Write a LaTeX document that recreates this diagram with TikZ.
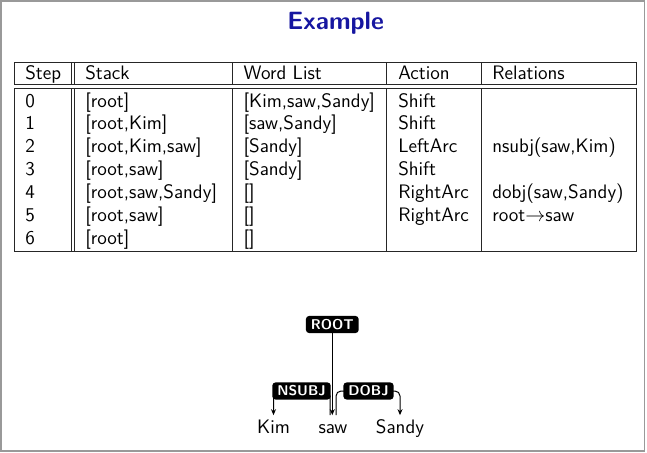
\documentclass[tikz,border=0pt]{standalone}
\usepackage{tikz}
\usepackage{amsmath}
\usetikzlibrary{arrows.meta,backgrounds}
\definecolor{titleblue}{RGB}{22,22,160}
\newcommand{\colrule}[1]{\draw[rule] (#1,62) -- (#1,84.5) (#1,88.7) -- (#1,251.7);}

\begin{document}
\begin{tikzpicture}[x=0.6pt,y=-0.6pt,
	cell/.style={anchor=base west,inner sep=0pt,font=\sffamily\fontsize{11.7}{14}\selectfont},
	word/.style={anchor=base,inner xsep=0pt,inner ysep=2.5pt,text height=8pt,text depth=0pt,font=\sffamily\fontsize{11.7}{14}\selectfont},
	deplabel/.style={fill=black,text=white,rounded corners=2pt,inner xsep=3pt,inner ysep=1.9pt,text height=6pt,text depth=0.5pt,font=\sffamily\bfseries\fontsize{8.5}{10}\selectfont},
	arc/.style={line width=0.6pt,rounded corners=3pt},
	rule/.style={line width=0.6pt,black!85}]
	\useasboundingbox (0,0) rectangle (647,452);
	\draw[gray!80,line width=1pt] (0.85,0.85) rectangle (644.5,451.1);
	\node[cell,font=\sffamily\bfseries\fontsize{15}{18}\selectfont,text=titleblue] (title) at (287,29.5) {Example};
	% table
	\draw[rule] (14,62) rectangle (636.7,84.5);
	\draw[rule] (14,88.7) rectangle (636.7,251.7);
	\foreach \x in {71.7,74,232.3,386.7,481} {\colrule{\x}}
	\node[cell] (hstep) at (25,79) {Step};
	\node[cell] (hstack) at (85,79) {Stack};
	\node[cell] (hwords) at (243.3,79) {Word List};
	\node[cell] (haction) at (398,79) {Action};
	\node[cell] (hrel) at (492,79) {Relations};
	\foreach \i/\stk/\wl/\act/\rl in {0/{[root]}/{[Kim,saw,Sandy]}/Shift/{},
			1/{[root,Kim]}/{[saw,Sandy]}/Shift/{},
			2/{[root,Kim,saw]}/{[Sandy]}/LeftArc/{nsubj(saw,Kim)},
			3/{[root,saw]}/{[Sandy]}/Shift/{},
			4/{[root,saw,Sandy]}/{[]}/RightArc/{dobj(saw,Sandy)},
			5/{[root,saw]}/{[]}/RightArc/{root$\rightarrow$saw},
			6/{[root]}/{[]}/{}/{}} {
		\node[cell] (n\i) at (25,{107+22.84*\i}) {\i};
		\node[cell] (s\i) at (85,{107+22.84*\i}) {\stk};
		\node[cell] (w\i) at (243.3,{107+22.84*\i}) {\wl};
		\node[cell] (a\i) at (398,{107+22.84*\i}) {\act};
		\node[cell] (r\i) at (492,{107+22.84*\i}) {\rl};
	}
	% dependency tree
	\node[word] (kim) at (273.5,433) {Kim};
	\node[word] (saw) at (333,433) {saw};
	\node[word] (sandy) at (400,433) {Sandy};
	\node[deplabel] (root) at (332.3,324.5) {ROOT};
	\node[deplabel] (nsubj) at (301.5,391) {NSUBJ};
	\node[deplabel] (dobj) at (368.5,391) {DOBJ};
	\begin{scope}[on background layer,-{Stealth[length=3.6pt,width=3pt]}]
		\draw[arc] (root.south) -- (root.south |- saw.north);
		\draw[arc] ([xshift=-1.8pt]saw.north) |- (nsubj.center) -| (kim.north);
		\draw[arc] ([xshift=1.8pt]saw.north) |- (dobj.center) -| (sandy.north);
	\end{scope}
\end{tikzpicture}
\end{document}
